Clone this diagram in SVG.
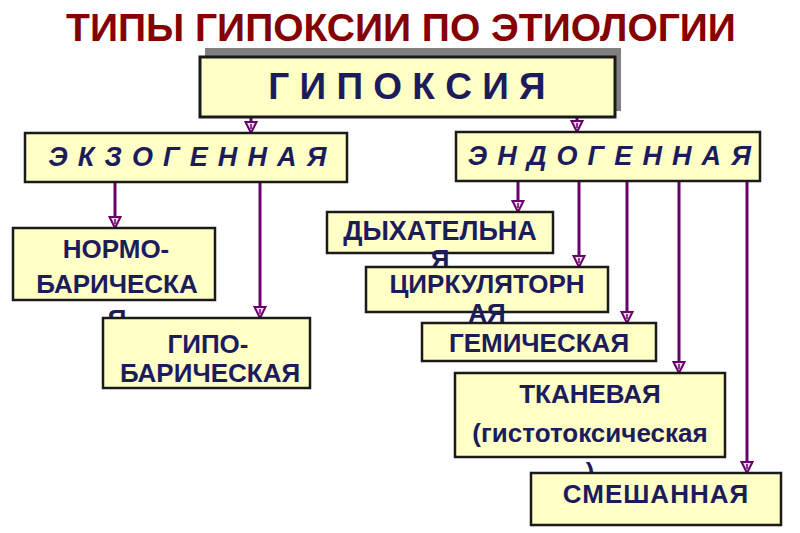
<svg xmlns="http://www.w3.org/2000/svg" width="800" height="533" viewBox="0 0 800 533">
<defs>
<style>
.box{fill:#FFFFC6;stroke:#1a1a1a;stroke-width:2.5}
.t{font-family:"Liberation Sans",Arial,sans-serif;font-weight:bold;fill:#1c1c5c;text-anchor:middle}
.n{font-size:26px}
.sp{font-size:27px;font-style:italic;letter-spacing:1.3px}
.c{stroke:#6a006a;stroke-width:3;fill:none;marker-end:url(#ah)}
</style>
<marker id="ah" markerUnits="userSpaceOnUse" markerWidth="14" markerHeight="14" viewBox="-1 -7 14 14" refX="0" refY="0" orient="auto">
<path d="M0,-5.5 L11,0 L0,5.5 Z" fill="#f2d8f2" stroke="#6a006a" stroke-width="2"/>
<path d="M2,0 L7,0" stroke="#6a006a" stroke-width="1.5"/>
</marker>
</defs>
<rect width="800" height="533" fill="#ffffff"/>
<text x="401" y="41" font-family="Liberation Sans,Arial,sans-serif" font-weight="bold" font-size="39" fill="#850000" text-anchor="middle">ТИПЫ ГИПОКСИИ ПО ЭТИОЛОГИИ</text>
<g id="connectors">
<line class="c" x1="251" y1="117" x2="251" y2="122"/>
<line class="c" x1="577" y1="117" x2="577" y2="121"/>
<line class="c" x1="115" y1="182" x2="115" y2="217"/>
<line class="c" x1="260" y1="182" x2="260" y2="307"/>
<line class="c" x1="518" y1="181" x2="518" y2="201"/>
<line class="c" x1="579" y1="181" x2="579" y2="256"/>
<line class="c" x1="627" y1="181" x2="627" y2="312"/>
<line class="c" x1="679" y1="181" x2="679" y2="362"/>
<line class="c" x1="747" y1="181" x2="747" y2="462"/>
</g>
<g id="gipoksiya">
<rect x="205" y="48" width="416" height="63" fill="#808080"/>
<rect x="200" y="57" width="415" height="60" fill="#FFFFC6" stroke="#1a1a1a" stroke-width="3"/>
<text class="t" x="407" y="99" font-size="37">Г И П О К С И Я</text>
</g>
<g id="ekzogennaya">
<rect class="box" x="25" y="133" width="322" height="49"/>
<text class="t sp" x="188" y="166">Э К З О Г Е Н Н А Я</text>
</g>
<g id="endogennaya">
<rect class="box" x="456" y="132" width="304" height="49"/>
<text class="t sp" x="610" y="165">Э Н Д О Г Е Н Н А Я</text>
</g>
<g id="normobaricheskaya">
<rect class="box" x="13" y="228" width="202" height="72"/>
<text class="t n" x="116" y="258">НОРМО-</text>
<text class="t n" x="117" y="293">БАРИЧЕСКА</text>
<text class="t n" x="117" y="328">Я</text>
</g>
<g id="gipobaricheskaya">
<rect class="box" x="103" y="318" width="207" height="70"/>
<text class="t n" x="208" y="353">ГИПО-</text>
<text class="t n" x="210" y="382">БАРИЧЕСКАЯ</text>
</g>
<g id="dyhatelnaya">
<rect class="box" x="327" y="212" width="226" height="41"/>
<text class="t" x="440" y="240" font-size="27">ДЫХАТЕЛЬНА</text>
<text class="t n" x="440" y="268">Я</text>
</g>
<g id="cirkulyatornaya">
<rect class="box" x="366" y="267" width="242" height="45"/>
<text class="t n" x="487" y="293">ЦИРКУЛЯТОРН</text>
<text class="t n" x="487" y="322">АЯ</text>
</g>
<g id="gemicheskaya">
<rect class="box" x="422" y="323" width="234" height="38"/>
<text class="t n" x="539" y="352">ГЕМИЧЕСКАЯ</text>
</g>
<g id="tkanevaya">
<rect class="box" x="455" y="373" width="270" height="84"/>
<text class="t n" x="590" y="403">ТКАНЕВАЯ</text>
<text class="t n" x="590" y="442">(гистотоксическая</text>
<text class="t n" x="590" y="481">)</text>
</g>
<g id="smeshannaya">
<rect class="box" x="531" y="473" width="250" height="52"/>
<text class="t n" x="656" y="503" style="letter-spacing:1px">СМЕШАННАЯ</text>
</g>
</svg>
